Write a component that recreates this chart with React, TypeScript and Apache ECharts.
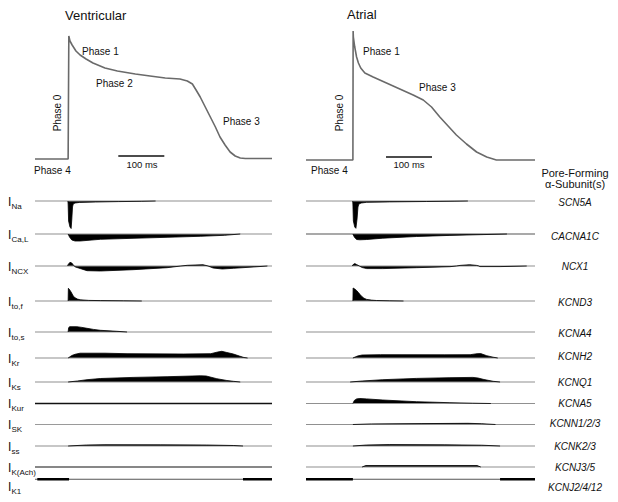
import React, { useEffect, useRef } from "react";
import * as echarts from "echarts";

// ---------- data ----------
// Action potentials: [time (ms from upstroke), membrane potential (mV)]
const ventricularAP = [[-72,-85],[0,-85],[1.5,38],[4,33],[8.7,29],[17,23],[26,19],[39,15],[54,11],[80,6],[107,3],[146,0],[178,-2],[211,-4],[243,-5],[259,-7],[270,-10],[278,-16],[287,-23],[298,-33],[309,-43],[320,-53],[330,-63],[341,-71],[352,-78],[363,-82],[374,-84],[385,-84.5],[443,-84.5]];
const atrialAP = [[-102,-85],[0,-85],[0.5,44],[1,38],[4,28],[8,18],[12,12],[17,7],[26,2],[44,-2],[73,-8],[102,-14],[131,-20],[153,-25],[171,-32],[189,-42],[207,-51],[225,-60],[247,-69],[269,-77],[291,-82],[312,-85],[396,-85]];

const ventScaleBar = [[109,-82],[209,-82]];
const atrScaleBar = [[72,-82],[172,-82]];

const currentSubscripts = ["Na","Ca,L","NCX","to,f","to,s","Kr","Ks","Kur","SK","ss","K(Ach)","K1"];
const geneNames = ["SCN5A","CACNA1C","NCX1","KCND3","KCNA4","KCNH2","KCNQ1","KCNA5","KCNN1/2/3","KCNK2/3","KCNJ3/5","KCNJ2/4/12"];

// Ventricular currents (relative amplitude, + outward up)
const vNa = [[-0.5,0],[0,-3],[1,-20],[4,-26],[6.5,-27.5],[8,-18],[9.5,-6],[11,-3],[15,-2],[25,-1.4],[60,-1],[110,-0.6],[160,-0.3],[190,0]];
const vCaL = [[0,0],[3,-3],[8,-6],[15,-7],[26,-7],[70,-5.3],[141,-4.3],[215,-3.3],[287,-2.3],[340,-1.3],[374,0]];
const vNCX = [[-1,0],[0,1.5],[4,3.7],[8,3],[12,0.5],[16,-1],[26,-2.5],[41,-4.7],[70,-5],[141,-3.7],[215,-1.7],[245,0],[259,0.7],[293,1.3],[304,0],[315,-2],[335,-3],[359,-2.3],[402,-1],[433,0]];
const vTof = [[0,0],[0.5,12.7],[2,12],[5,10],[8,7.7],[11,5],[15,3.3],[20,2],[26,1.2],[45,0.6],[70,0.4],[120,0.2],[160,0]];
const vTos = [[0,0],[1,4],[3,5.3],[19,5.3],[30,4.6],[41,3.7],[55,2.6],[70,1.7],[106,0.7],[128,0]];
const vKr = [[0,0],[8,2.5],[15,3.7],[26,4.8],[80,4.8],[128,4.3],[250,4],[310,4.3],[325,6],[334,6.7],[345,5.5],[359,4],[372,2],[382,0.5],[390,0]];
const vKs = [[0,0],[20,1],[41,2.3],[70,3.5],[141,4.6],[215,5.3],[287,6.2],[300,6],[323,3.3],[345,1.5],[359,0.7],[374,0]];
const vKur: number[][] = [];
const vSK: number[][] = [];
const vSs = [[0,0],[40,1],[80,1.3],[200,1.2],[300,1],[360,0.5],[380,0]];
const vKAch: number[][] = [];
const vK1a = [[-67,0],[2,0]];
const vK1b = [[380,0],[443,0]];

// Atrial currents
const aNa = [[-0.5,0],[0,-3],[1,-20],[4,-26],[6.5,-27.3],[9,-18],[11,-6],[13,-3],[18,-2],[30,-1.3],[80,-0.9],[160,-0.5],[220,-0.2],[250,0]];
const aCaL = [[0,0],[3,-3],[8,-5.5],[15,-5.8],[30,-5.5],[65,-4.2],[138,-2.5],[211,-1.4],[283,-0.6],[335,0]];
const aNCX = [[-1,0],[0,1.2],[4,2.4],[8,1.5],[14,0],[20,-1.5],[30,-2.6],[65,-2.6],[138,-1.7],[211,-0.7],[225,0],[233,0.6],[254,1.3],[269,0.6],[274,0],[276,-0.6],[320,-0.6],[378,0]];
const aTof = [[0,0],[0.5,13],[4,12],[8,10.5],[12,8.5],[16,6.2],[19,4.7],[24,2.8],[30,1.6],[40,0.9],[51,0.5],[80,0.2],[110,0]];
const aTos: number[][] = [];
const aKr = [[0,0],[10,2],[20,3],[60,3.3],[200,3.2],[255,3.3],[270,4.3],[278,4.4],[291,2.3],[305,0.8],[315,0]];
const aKs = [[-6,0],[20,1],[65,2.3],[138,3.6],[211,4.3],[261,4.6],[272,4],[285,2.5],[305,0.7],[320,0]];
const aKur = [[0,0],[3,3],[8,4.6],[15,5],[30,4.6],[65,3.5],[138,1.8],[211,0.8],[260,0.3],[300,0]];
const aSK = [[0,0],[40,0.6],[150,0.9],[250,1.2],[280,0.8],[310,0]];
const aSs = [[0,0],[30,1],[80,1.4],[200,1.2],[280,0.8],[320,0]];
const aKAch = [[20,0],[28,1.5],[270,1.5],[278,0]];
const aK1a = [[-102,0],[0,0]];
const aK1b = [[320,0],[396,0]];

const ventRows = [[vNa],[vCaL],[vNCX],[vTof],[vTos],[vKr],[vKs],[vKur],[vSK],[vSs],[vKAch],[]];
const atrRows = [[aNa],[aCaL],[aNCX],[aTof],[aTos],[aKr],[aKs],[aKur],[aSK],[aSs],[aKAch],[]];
const ventThick = [vK1a, vK1b];
const atrThick = [aK1a, aK1b];

// ---------- layout ----------
const FONT = "'Liberation Sans', Arial, Helvetica, sans-serif";
const rowBase = [201, 234, 266, 301, 332, 358, 382, 403.5, 424.5, 446, 467, 486.5];
const geneY = [202, 236, 266, 302, 333, 356, 382, 403, 423, 446, 467, 487];
const COLS = [
  { left: 35, width: 237, min: -72, max: 443, apTop: 24 },
  { left: 306, width: 229, min: -102, max: 396, apTop: 25 },
];
const G = "#909090";
const ventBaseColor = [G,G,G,G,G,G,G,"#111","#9a9a9a",G,"#111","#555"];
const ventBaseWidth = [1.2,1.2,1.2,1.2,1.2,1.2,1.2,1.6,1.2,1.2,1.1,1.2];
const atrBaseColor = [G,"#555",G,G,G,G,G,G,G,G,G,"#555"];

export default function App() {
  const ref = useRef<HTMLDivElement>(null);
  useEffect(() => {
    document.body.style.margin = "0";
    if (!ref.current) return;
    const chart = echarts.init(ref.current, null, { renderer: "svg" });
    const grids: any[] = [];
    const xAxes: any[] = [];
    const yAxes: any[] = [];
    const series: any[] = [];
    const hiddenAxis = { show: false, axisLine: { show: false }, axisTick: { show: false }, axisLabel: { show: false }, splitLine: { show: false } };

    const addGrid = (col: any, top: number, height: number, ymin: number, ymax: number) => {
      const i = grids.length;
      grids.push({ left: col.left, width: col.width, top, height, containLabel: false });
      xAxes.push({ type: "value", gridIndex: i, min: col.min, max: col.max, ...hiddenAxis });
      yAxes.push({ type: "value", gridIndex: i, min: ymin, max: ymax, ...hiddenAxis });
      return i;
    };

    // AP grids
    [ventricularAP, atrialAP].forEach((ap, c) => {
      const col = COLS[c];
      const g = addGrid(col, col.apTop, 145, -95, 50);
      series.push({ type: "line", xAxisIndex: g, yAxisIndex: g, data: ap, symbol: "none", lineStyle: { color: "#6a6a6a", width: 1.6 }, silent: true });
      series.push({ type: "line", xAxisIndex: g, yAxisIndex: g, data: c === 0 ? ventScaleBar : atrScaleBar, symbol: "none", lineStyle: { color: "#111", width: 1.5 }, silent: true });
    });

    // current rows
    [ventRows, atrRows].forEach((rows, c) => {
      const col = COLS[c];
      rows.forEach((segs, r) => {
        const g = addGrid(col, rowBase[r] - 30, 60, -30, 30);
        const bc = c === 0 ? ventBaseColor[r] : atrBaseColor[r];
        const bw = c === 0 ? ventBaseWidth[r] : 1.2;
        series.push({ type: "line", xAxisIndex: g, yAxisIndex: g, data: [[col.min, 0], [col.max, 0]], symbol: "none", lineStyle: { color: bc, width: bw }, silent: true });
        segs.forEach((d: number[][]) => {
          if (!d.length) return;
          series.push({ type: "line", xAxisIndex: g, yAxisIndex: g, data: d, symbol: "none", lineStyle: { color: "#000", width: 0.8 }, areaStyle: { color: "#000", opacity: 1 }, silent: true });
        });
        if (r === 11) {
          (c === 0 ? ventThick : atrThick).forEach((d) => {
            series.push({ type: "line", xAxisIndex: g, yAxisIndex: g, data: d, symbol: "none", lineStyle: { color: "#000", width: 2.6 }, silent: true });
          });
        }
      });
    });

    const txt = (text: string, x: number, y: number, fontSize: number, extra: any = {}) => ({
      type: "text", x, y, silent: true,
      style: { text, fontSize, fontFamily: FONT, fill: "#111", align: "left", verticalAlign: "middle", ...extra },
    });

    const graphic: any[] = [
      txt("Ventricular", 65, 15, 13),
      txt("Atrial", 347, 14, 13),
      txt("Phase 1", 82, 51, 10),
      txt("Phase 2", 96, 83, 10),
      txt("Phase 3", 223, 121, 10),
      txt("Phase 4", 34, 170, 10),
      { ...txt("Phase 0", 57, 113, 10, { align: "center" }), rotation: Math.PI / 2 },
      txt("Phase 1", 363, 51, 10),
      txt("Phase 3", 419, 87, 10),
      txt("Phase 4", 311, 170, 10),
      { ...txt("Phase 0", 339, 113, 10, { align: "center" }), rotation: Math.PI / 2 },
      txt("100 ms", 142, 164, 9.5, { align: "center" }),
      txt("100 ms", 409, 164, 9.5, { align: "center" }),
      txt("Pore-Forming", 575, 173, 11, { align: "center" }),
      txt("α-Subunit(s)", 575, 184, 11, { align: "center" }),
    ];
    currentSubscripts.forEach((s, r) => {
      graphic.push(txt("I", 8, rowBase[r] + 0.5, 12));
      graphic.push(txt(s, 11.5, rowBase[r] + 5, 8));
      graphic.push(txt(geneNames[r], 575, geneY[r], 10, { align: "center", fontStyle: "italic" }));
    });

    chart.setOption({
      animation: false,
      backgroundColor: "#fff",
      grid: grids,
      xAxis: xAxes,
      yAxis: yAxes,
      series,
      graphic,
    });
    return () => chart.dispose();
  }, []);
  return <div ref={ref} style={{ width: 618, height: 502 }} />;
}
